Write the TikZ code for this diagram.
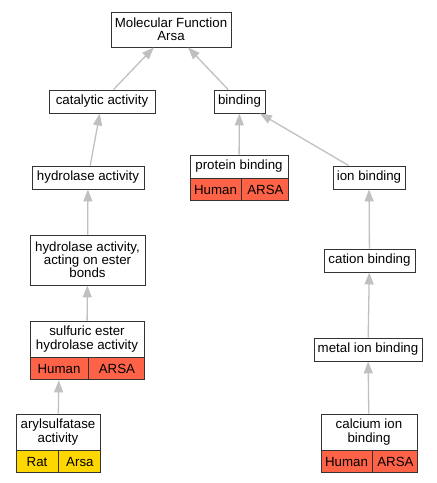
\documentclass[tikz,border=0pt]{standalone}
\usepackage{fontspec}
\setmainfont{Liberation Sans}
\usetikzlibrary{arrows.meta,positioning}
\definecolor{tomato}{RGB}{255,99,71}
\definecolor{gold}{RGB}{255,215,0}
\definecolor{edgegray}{RGB}{192,192,192}

\begin{document}
\begin{tikzpicture}[x=1pt,y=-1pt,
  term/.style={draw=black!80,line width=0.9pt,fill=white,align=center,inner sep=0pt,
    font=\fontsize{13.3}{13.2}\selectfont},
  human/.style={term,fill=tomato,minimum height=22pt},
  rat/.style={term,fill=gold,minimum height=22pt},
  isa/.style={draw,color=edgegray,line width=1.3pt,-{Triangle[length=12pt,width=9pt]}}]
  \useasboundingbox (0,0) rectangle (437,483);
  \node[term,minimum width=120pt,minimum height=35pt] (mf) at (171,29.5) {Molecular Function\\Arsa};
  \node[term,minimum width=106pt,minimum height=23pt] (cat) at (102,101.5) {catalytic activity};
  \node[term,minimum width=51pt,minimum height=23pt] (bind) at (239.5,101.5) {binding};
  \node[term,minimum width=112pt,minimum height=23pt] (hyd) at (88,177.5) {hydrolase activity};
  \node[term,minimum width=98pt,minimum height=23pt] (prot) at (239,166.5) {protein binding};
  \node[human,minimum width=51pt,below right=0pt and 0pt of prot.south west] (prot_h) {Human};
  \node[human,minimum width=47pt,right=0pt of prot_h] (prot_g) {ARSA};
  \node[term,minimum width=72pt,minimum height=23pt] (ion) at (369,177.5) {ion binding};
  \node[term,minimum width=115pt,minimum height=50pt] (ester) at (87.5,260) {hydrolase activity,\\acting on ester\\bonds};
  \node[term,minimum width=91pt,minimum height=23pt] (cation) at (369.5,260.5) {cation binding};
  \node[term,minimum width=114pt,minimum height=36pt] (sulf) at (87,339) {sulfuric ester\\hydrolase activity};
  \node[human,minimum width=58pt,below right=0pt and 0pt of sulf.south west] (sulf_h) {Human};
  \node[human,minimum width=56pt,right=0pt of sulf_h] (sulf_g) {ARSA};
  \node[term,minimum width=108pt,minimum height=23pt] (metal) at (368,349.5) {metal ion binding};
  \node[term,minimum width=84pt,minimum height=36pt] (aryl) at (58,432) {arylsulfatase\\activity};
  \node[rat,minimum width=42pt,below right=0pt and 0pt of aryl.south west] (aryl_r) {Rat};
  \node[rat,minimum width=42pt,right=0pt of aryl_r] (aryl_g) {Arsa};
  \node[term,minimum width=96pt,minimum height=36pt] (calc) at (369,432) {calcium ion\\binding};
  \node[human,minimum width=51pt,below right=0pt and 0pt of calc.south west] (calc_h) {Human};
  \node[human,minimum width=45pt,right=0pt of calc_h] (calc_g) {ARSA};
  \path[every edge/.style=isa]
  (cat) edge (mf)
  (bind) edge (mf)
  (hyd) edge (cat)
  (prot) edge (bind)
  (ion) edge (bind)
  (ester) edge (hyd)
  (cation) edge (ion)
  (sulf) edge (ester)
  (metal) edge (cation)
  (aryl) edge (sulf_h)
  (calc) edge (metal);
\end{tikzpicture}
\end{document}
